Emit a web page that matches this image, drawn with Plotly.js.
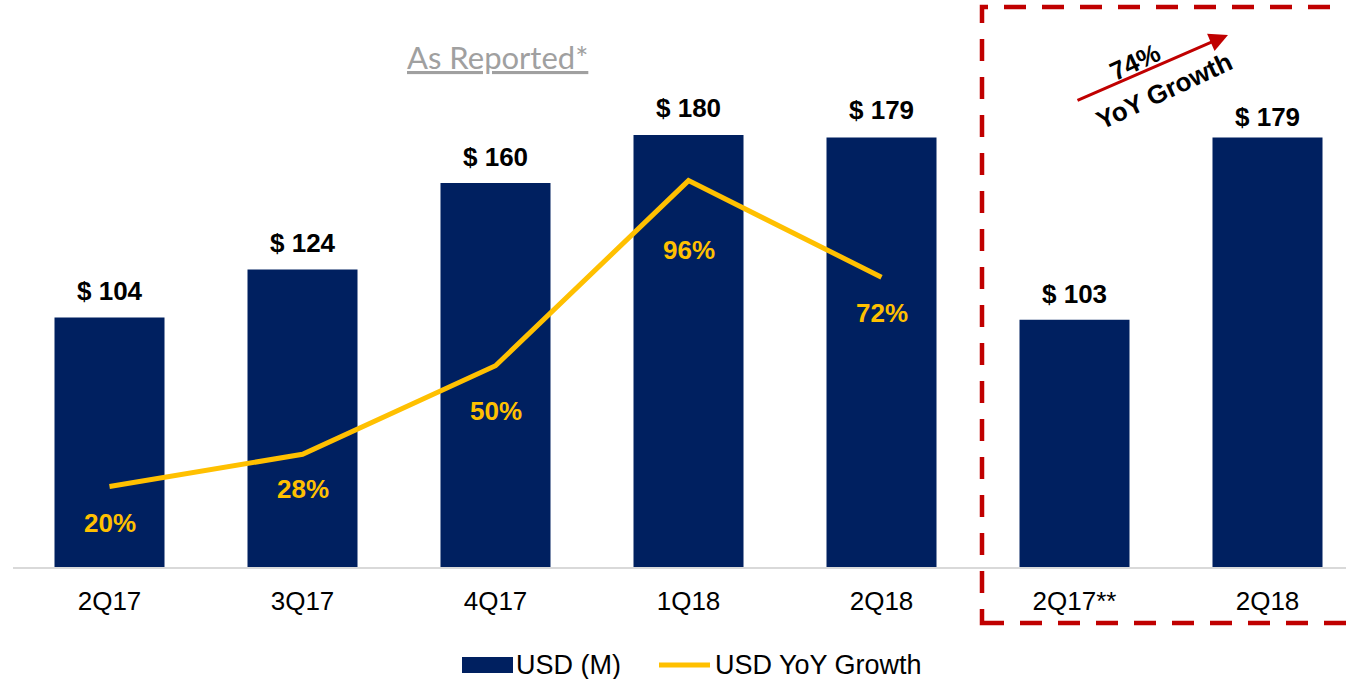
<!DOCTYPE html>
<html>
<head>
<meta charset="utf-8">
<script src="https://cdn.plot.ly/plotly-3.0.1.min.js"></script>
<style>html,body{margin:0;padding:0;background:#fff;}#chart{width:1346px;height:679px;}</style>
</head>
<body>
<div id="chart"></div>
<script>
// ---- data ----
const categories = ['2Q17', '3Q17', '4Q17', '1Q18', '2Q18', '2Q17**', '2Q18'];
const usdM = [104, 124, 160, 180, 179, 103, 179];
const growthCategories = ['2Q17', '3Q17', '4Q17', '1Q18', '2Q18'];
const yoyGrowth = [20, 28, 50, 96, 72];
const highlightGrowth = '74%';
const highlightLabel = 'YoY Growth';
const chartTitle = 'As Reported*';
const legendNames = ['USD (M)', 'USD YoY Growth'];

// ---- styling ----
const NAVY = '#002060', GOLD = '#FFC000', RED = '#C00000';
const FONT = 'Arial, "Liberation Sans", sans-serif';
const W = 1346, H = 679;
const M = {l: 13, r: 0, t: 20, b: 112};
const plotW = W - M.l - M.r, plotH = H - M.t - M.b;
const catStep = 193;               // px per category
const barPx = 2.4;                 // px per USD M
const growthPx = 4.025;            // px per %
const barLabelOffset = [26, 26, 26, 27, 27, 26, 20];
const pctLabelOffset = [36, 35, 45, 69, 36];

const xIdx = categories.map((_, i) => i);
const gIdx = growthCategories.map((_, i) => i);
const px2x = p => (p - M.l) / plotW;
const px2y = p => (H - M.b - p) / plotH;

const traces = [
  {type: 'bar', x: xIdx, y: usdM, name: legendNames[0], marker: {color: NAVY},
   showlegend: false, hoverinfo: 'skip'},
  {type: 'scatter', mode: 'lines', x: gIdx, y: yoyGrowth, yaxis: 'y2', name: legendNames[1],
   line: {color: GOLD, width: 5}, showlegend: false, hoverinfo: 'skip'}
];

const annotations = [];
usdM.forEach((v, i) => annotations.push({
  x: i, y: v, xref: 'x', yref: 'y', text: '$ ' + v, showarrow: false,
  yanchor: 'middle', yshift: barLabelOffset[i],
  font: {family: FONT, size: 26, color: '#000', weight: 'bold'}
}));
yoyGrowth.forEach((v, i) => annotations.push({
  x: i, y: v, xref: 'x', yref: 'y2', text: v + '%', showarrow: false,
  yanchor: 'middle', yshift: -pctLabelOffset[i],
  font: {family: FONT, size: 26, color: GOLD, weight: 'bold'}
}));
// title
annotations.push({x: px2x(497), y: px2y(57), xref: 'paper', yref: 'paper', showarrow: false,
  text: '<u>' + chartTitle + '</u>', xanchor: 'center', yanchor: 'middle',
  font: {family: 'Lato, sans-serif', size: 31, color: '#A0A0A0'}});
// arrow
annotations.push({x: px2x(1228), y: px2y(35), xref: 'paper', yref: 'paper', text: '',
  showarrow: true, axref: 'pixel', ayref: 'pixel', ax: -152, ay: 66,
  arrowcolor: RED, arrowwidth: 3, arrowhead: 2, arrowsize: 1.25, standoff: 0});
annotations.push({x: px2x(1135), y: px2y(62), xref: 'paper', yref: 'paper', showarrow: false,
  text: highlightGrowth, textangle: -25, xanchor: 'center', yanchor: 'middle',
  font: {family: FONT, size: 26, color: '#000', weight: 'bold'}});
annotations.push({x: px2x(1164), y: px2y(91), xref: 'paper', yref: 'paper', showarrow: false,
  text: highlightLabel, textangle: -25, xanchor: 'center', yanchor: 'middle',
  font: {family: FONT, size: 26, color: '#000', weight: 'bold'}});
// custom legend text
annotations.push({x: px2x(514), y: px2y(665), xref: 'paper', yref: 'paper', showarrow: false,
  text: legendNames[0], xanchor: 'left', yanchor: 'middle',
  font: {family: FONT, size: 27, color: '#000'}});
annotations.push({x: px2x(713), y: px2y(665), xref: 'paper', yref: 'paper', showarrow: false,
  text: legendNames[1], xanchor: 'left', yanchor: 'middle',
  font: {family: FONT, size: 27, color: '#000'}});

const shapes = [
  {type: 'rect', xref: 'paper', yref: 'paper', x0: px2x(982), x1: px2x(1380), y0: px2y(623), y1: px2y(7),
   line: {color: RED, width: 4.5, dash: '22px,16px'}, fillcolor: 'rgba(0,0,0,0)'},
  {type: 'rect', xref: 'paper', yref: 'paper', x0: px2x(462), x1: px2x(513), y0: px2y(673), y1: px2y(657),
   line: {width: 0}, fillcolor: NAVY},
  {type: 'line', xref: 'paper', yref: 'paper', x0: px2x(659), x1: px2x(710), y0: px2y(665), y1: px2y(665),
   line: {color: GOLD, width: 5}}
];

const layout = {
  width: W, height: H, margin: M, paper_bgcolor: '#fff', plot_bgcolor: '#fff',
  showlegend: false, bargap: 0.43,
  font: {family: FONT, size: 26, color: '#000'},
  xaxis: {range: [-0.5, -0.5 + plotW / catStep], tickmode: 'array', tickvals: xIdx, ticktext: categories,
    showline: true, linecolor: '#D9D9D9', linewidth: 2, showgrid: false, zeroline: false,
    ticks: '', ticklabelstandoff: 10, tickfont: {family: FONT, size: 26, color: '#000'}, fixedrange: true},
  yaxis: {range: [0, plotH / barPx], visible: false, fixedrange: true},
  yaxis2: {range: [0, plotH / growthPx], overlaying: 'y', visible: false, fixedrange: true},
  annotations: annotations, shapes: shapes
};

Plotly.newPlot('chart', traces, layout, {displayModeBar: false, staticPlot: true});
</script>
</body>
</html>
